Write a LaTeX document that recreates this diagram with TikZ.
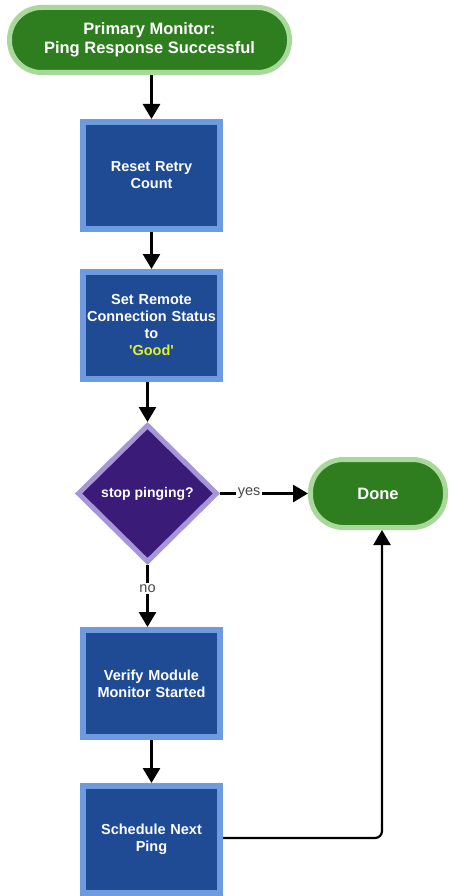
\documentclass[tikz,border=0pt]{standalone}
\usepackage{fontspec}
\setmainfont{Liberation Sans}[Ligatures=TeXOff]
\usetikzlibrary{shapes.geometric,arrows.meta}
\definecolor{gfill}{HTML}{2E7D1F}
\definecolor{gline}{HTML}{A9D99A}
\definecolor{bfill}{HTML}{1E4B94}
\definecolor{bline}{HTML}{6E9BE0}
\definecolor{pfill}{HTML}{3A1B78}
\definecolor{pline}{HTML}{A596DA}
\definecolor{goodyel}{HTML}{E2F02A}
\definecolor{lbl}{HTML}{484848}
\tikzset{
  term/.style={draw=gline, fill=gfill, line width=5pt, rounded corners=32pt, inner sep=0pt,
    text=white, font=\fontsize{16.5}{19}\selectfont\bfseries, align=center},
  procbox/.style={draw=bline, fill=bfill, line width=6pt, minimum width=137pt, minimum height=107pt,
    inner sep=0pt, text=white, font=\fontsize{14.5}{17}\selectfont\bfseries, align=center, text width=132pt},
  decide/.style={diamond, draw=pline, fill=pfill, line width=5pt, minimum width=140pt, minimum height=138pt,
    inner sep=0pt, text=white, font=\fontsize{14}{17}\selectfont\bfseries, align=center},
  flow/.style={line width=2.8pt, -{Triangle[width=17pt,length=15pt]}},
  edgelbl/.style={fill=white, inner sep=1.5pt, text=lbl, font=\fontsize{14.5}{17}\selectfont}
}
\begin{document}
\begin{tikzpicture}[x=1pt,y=-1pt]
\useasboundingbox (0,0) rectangle (450,896);
\node[term, minimum width=280pt, minimum height=65pt] (start) at (149.5,40) {Primary Monitor:\\Ping Response Successful};
\node[procbox] (reset) at (151.5,175.5) {Reset Retry\\Count};
\node[procbox] (setstat) at (151.5,325.5) {Set Remote\\Connection Status\\to\\\textcolor{goodyel}{'Good'}};
\node[decide] (stop) at (147.5,493.5) {stop pinging?};
\node[term, minimum width=135pt, minimum height=68pt, rounded corners=33pt] (done) at (378,493.5) {Done};
\node[procbox] (verify) at (151.5,683.5) {Verify Module\\Monitor Started};
\node[procbox] (sched) at (151.5,839.5) {Schedule Next\\Ping};
\coordinate (corner) at (382,838);
\draw[flow] (start.south -| reset.north) -- (reset.north);
\draw[flow] (reset) -- (setstat);
\draw[flow] (setstat.south -| stop.north) -- (stop.north);
\draw[flow] (stop.east) -- node[edgelbl, pos=0.33] {yes} (done.west);
\draw[flow] (stop.south) -- node[edgelbl, pos=0.38] {no} (verify.north -| stop.south);
\draw[flow] (verify) -- (sched);
\draw[line width=2.2pt, rounded corners=7pt, -{Triangle[width=17pt,length=15pt]}] (sched.east |- corner) -- (corner) -- (done.south -| corner);
\end{tikzpicture}
\end{document}
